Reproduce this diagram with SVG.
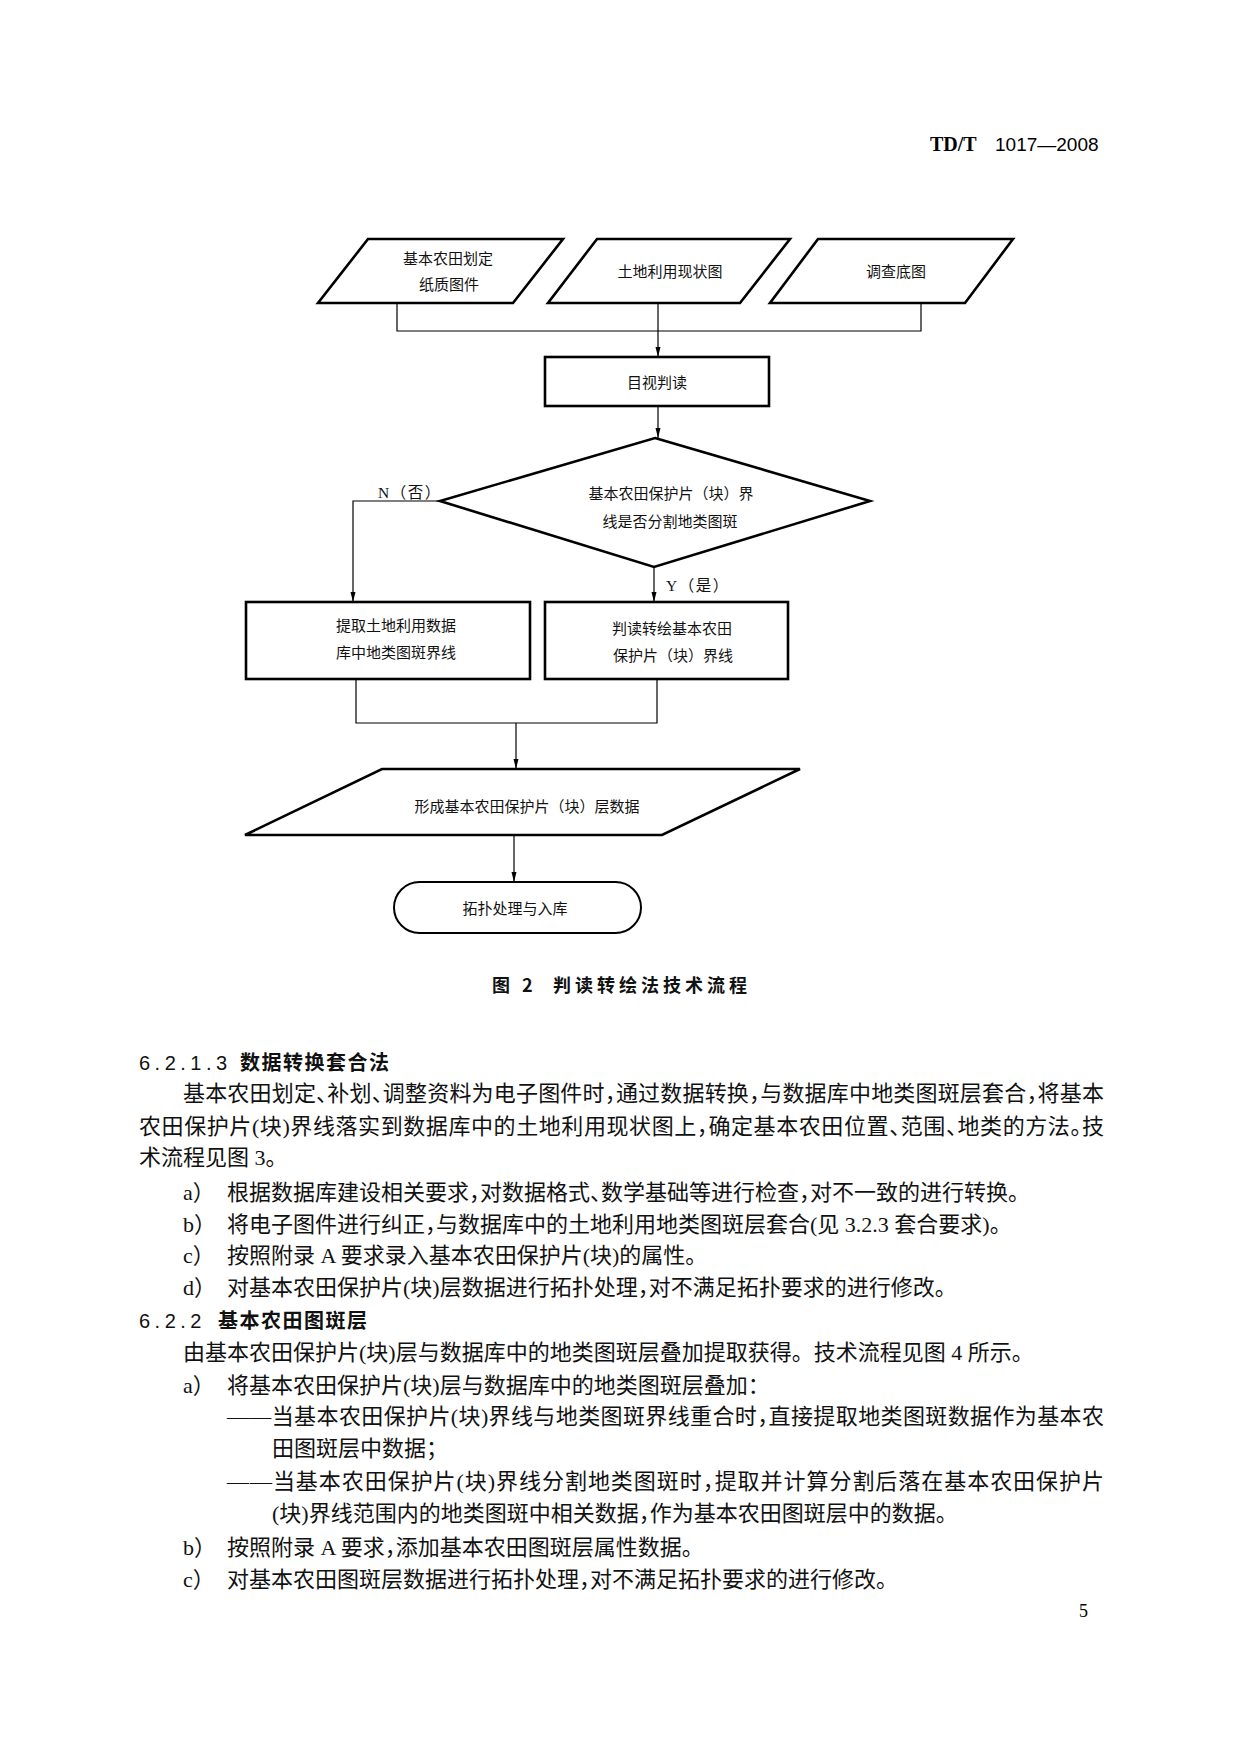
<svg xmlns="http://www.w3.org/2000/svg" width="1241" height="1754" viewBox="0 0 1241 1754">
<style>
.node{fill:none;stroke:#000;stroke-width:2.6;stroke-linejoin:miter}
.conn{fill:none;stroke:#000;stroke-width:1.2}
.nt{font-family:"Noto Sans CJK SC",sans-serif;font-size:15px;fill:#111;text-anchor:middle}
.lbl{font-family:"Liberation Serif","Noto Sans CJK SC",serif;font-size:15.5px;fill:#111;letter-spacing:1.5px}
.body{font-family:"Liberation Serif","Noto Sans CJK SC",serif;font-size:22px;fill:#111;font-feature-settings:"halt"}
.head{font-family:"Liberation Sans",sans-serif;font-size:20px;fill:#111;letter-spacing:4.5px}
.headc{font-family:"Noto Sans CJK SC",sans-serif;font-size:20px;font-weight:bold;fill:#111;letter-spacing:1.5px}
.cap{font-family:"Noto Sans CJK SC",sans-serif;font-size:18px;font-weight:bold;fill:#111}
</style>
<defs>
<marker id="arr" markerUnits="userSpaceOnUse" markerWidth="11" markerHeight="6" refX="10" refY="3" orient="auto">
<path d="M0,0.5 L10,3 L0,5.5 z" fill="#000"/>
</marker>
</defs>
<rect width="1241" height="1754" fill="#fff"/>

<g id="header">
<text x="930" y="151" style="font-family:'Liberation Serif',serif;font-size:20px;font-weight:bold">TD/T</text>
<text x="995" y="151" style="font-family:'Liberation Sans',sans-serif;font-size:19px">1017—2008</text>
</g>

<g id="connectors">
<polyline class="conn" points="397,303 397,331 921,331 921,303"/>
<line class="conn" x1="658" y1="303" x2="658" y2="357" marker-end="url(#arr)"/>
<line class="conn" x1="658" y1="406" x2="658" y2="438" marker-end="url(#arr)"/>
<polyline class="conn" points="440,501 353,501 353,602" marker-end="url(#arr)"/>
<line class="conn" x1="654" y1="567" x2="654" y2="602" marker-end="url(#arr)"/>
<polyline class="conn" points="356,679 356,723 657,723 657,679"/>
<line class="conn" x1="516" y1="723" x2="516" y2="769" marker-end="url(#arr)"/>
<line class="conn" x1="514" y1="835" x2="514" y2="882" marker-end="url(#arr)"/>
<text class="lbl" x="378" y="498">N（否）</text>
<text class="lbl" x="666" y="591">Y（是）</text>
</g>

<g id="n-paper">
<polygon class="node" points="368,239 563,239 513,303 318,303"/>
<text class="nt" x="448" y="264">基本农田划定</text>
<text class="nt" x="449" y="290">纸质图件</text>
</g>
<g id="n-landuse">
<polygon class="node" points="597,239 790,239 740,303 548,303"/>
<text class="nt" x="670" y="277">土地利用现状图</text>
</g>
<g id="n-survey">
<polygon class="node" points="818,239 1013,239 965,303 770,303"/>
<text class="nt" x="896" y="277">调查底图</text>
</g>
<g id="n-visual">
<rect class="node" x="545" y="357" width="224" height="49"/>
<text class="nt" x="657" y="388">目视判读</text>
</g>
<g id="n-decision">
<polygon class="node" points="655,438 870,501 654,567 440,501"/>
<text class="nt" x="671" y="499">基本农田保护片（块）界</text>
<text class="nt" x="670" y="527">线是否分割地类图斑</text>
</g>
<g id="n-extract">
<rect class="node" x="246" y="602" width="284" height="77"/>
<text class="nt" x="396" y="631">提取土地利用数据</text>
<text class="nt" x="396" y="658">库中地类图斑界线</text>
</g>
<g id="n-digitize">
<rect class="node" x="545" y="602" width="243" height="77"/>
<text class="nt" x="672" y="634">判读转绘基本农田</text>
<text class="nt" x="673" y="661">保护片（块）界线</text>
</g>
<g id="n-layer">
<polygon class="node" points="382,769 800,769 662,835 245,835"/>
<text class="nt" x="527" y="812">形成基本农田保护片（块）层数据</text>
</g>
<g id="n-topo">
<rect class="node" style="stroke-width:2" x="394" y="882" width="247" height="51" rx="25.5" ry="25.5"/>
<text class="nt" x="515" y="914">拓扑处理与入库</text>
</g>

<g id="caption">
<text class="cap" x="492" y="992" style="letter-spacing:4px">图 2</text>
<text class="cap" x="553" y="992" style="letter-spacing:4px">判读转绘法技术流程</text>
</g>

<g id="bodytext">
<text class="head" x="139" y="1070">6.2.1.3</text>
<text class="headc" x="240" y="1070">数据转换套合法</text>
<text class="body" x="183" y="1101" textLength="921" lengthAdjust="spacing">基本农田划定、补划、调整资料为电子图件时，通过数据转换，与数据库中地类图斑层套合，将基本</text>
<text class="body" x="139" y="1134" textLength="965" lengthAdjust="spacing">农田保护片(块)界线落实到数据库中的土地利用现状图上，确定基本农田位置、范围、地类的方法。技</text>
<text class="body" x="139" y="1165">术流程见图 3。</text>
<text class="body" x="183" y="1200">a）</text>
<text class="body" x="227" y="1200">根据数据库建设相关要求，对数据格式、数学基础等进行检查，对不一致的进行转换。</text>
<text class="body" x="183" y="1232">b）</text>
<text class="body" x="227" y="1232">将电子图件进行纠正，与数据库中的土地利用地类图斑层套合(见 3.2.3 套合要求)。</text>
<text class="body" x="183" y="1263">c）</text>
<text class="body" x="227" y="1263">按照附录 A 要求录入基本农田保护片(块)的属性。</text>
<text class="body" x="183" y="1295">d）</text>
<text class="body" x="227" y="1295">对基本农田保护片(块)层数据进行拓扑处理，对不满足拓扑要求的进行修改。</text>
<text class="head" x="139" y="1328">6.2.2</text>
<text class="headc" x="218" y="1328">基本农田图斑层</text>
<text class="body" x="183" y="1360">由基本农田保护片(块)层与数据库中的地类图斑层叠加提取获得。<tspan dx="11">技术流程见图 4 所示。</tspan></text>
<text class="body" x="183" y="1393">a）</text>
<text class="body" x="227" y="1393">将基本农田保护片(块)层与数据库中的地类图斑层叠加：</text>
<text class="body" x="227" y="1424" textLength="877" lengthAdjust="spacing">——当基本农田保护片(块)界线与地类图斑界线重合时，直接提取地类图斑数据作为基本农</text>
<text class="body" x="272" y="1456">田图斑层中数据；</text>
<text class="body" x="227" y="1489" textLength="877" lengthAdjust="spacing">——当基本农田保护片(块)界线分割地类图斑时，提取并计算分割后落在基本农田保护片</text>
<text class="body" x="272" y="1521">(块)界线范围内的地类图斑中相关数据，作为基本农田图斑层中的数据。</text>
<text class="body" x="183" y="1555">b）</text>
<text class="body" x="227" y="1555">按照附录 A 要求，添加基本农田图斑层属性数据。</text>
<text class="body" x="183" y="1587">c）</text>
<text class="body" x="227" y="1587">对基本农田图斑层数据进行拓扑处理，对不满足拓扑要求的进行修改。</text>
<text x="1079" y="1617" style="font-family:'Liberation Serif',serif;font-size:18px">5</text>
</g>
</svg>
